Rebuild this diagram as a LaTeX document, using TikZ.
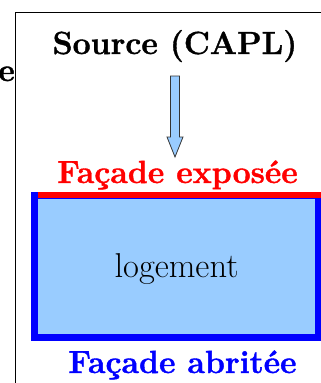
\documentclass[tikz,border=0pt]{standalone}
\usepackage{fontspec}
\setmainfont{Latin Modern Roman}[BoldFeatures={FakeBold=1.2}]
\usetikzlibrary{calc,positioning}
\definecolor{ciel}{HTML}{99CCFF}
\tikzset{
  grand/.style={font=\fontsize{34.5}{40}\selectfont,inner sep=0pt,anchor=base},
  titre/.style={grand,font=\fontsize{32}{40}\selectfont\bfseries},
}
\begin{document}
\begin{tikzpicture}[x=1pt,y=-1pt]
  \useasboundingbox (0,0) rectangle (321,383);
  % cadre
  \draw[line width=1pt] (15.5,383) -- (15.5,12) -- (321,12);
  \node[titre] (reste) at (15,81) [anchor=base east] {e};
  \node[titre] (src) at (175,54) {Source (CAPL)};
  \node[titre,text=red] (expo) at (177.5,183) {Façade exposée};
  % logement
  \draw[blue,fill=ciel,line width=7pt] (34,195) rectangle (318.5,337.5);
  \draw[red,line width=6pt] (38,194.5) -- (321,194.5);
  \node[grand] (loge) at (176.5,277) {logement};
  \node[titre,text=blue] (abri) at (182.5,373) {Façade abritée};
  % fleche
  \coordinate (haut) at ($(src.base)+(0,22)$);
  \coordinate (pointe) at ($(expo.base)+(-2.5,-26)$);
  \draw[fill=ciel,draw=black!80,line width=0.8pt]
    ($(haut)+(-4.5,0)$) -- ($(haut)+(4.5,0)$) -- ($(pointe)+(4.5,-20)$)
    -- ($(pointe)+(8,-20)$) -- (pointe) -- ($(pointe)+(-8,-20)$)
    -- ($(pointe)+(-4.5,-20)$) -- cycle;
\end{tikzpicture}
\end{document}
